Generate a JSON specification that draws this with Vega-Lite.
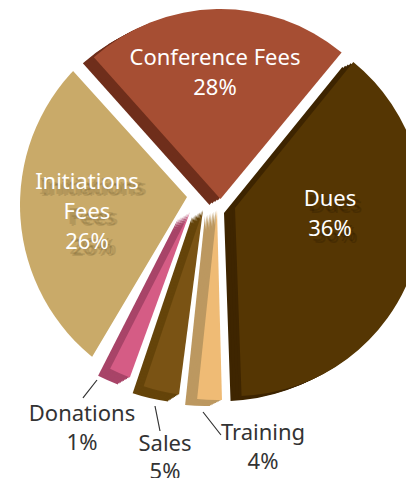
{"$schema":"https://vega.github.io/schema/vega-lite/v6.json","width":406,"height":478,"padding":0,"autosize":{"type":"none"},"background":"white","config":{"view":{"stroke":null}},
"data":{"values":[
{"slice":"Conference Fees","pct":28,"from":-41.8,"to":39.6,"label":"Conference Fees\n28%"},
{"slice":"Dues","pct":36,"from":39,"to":178,"label":"Dues\n36%"},
{"slice":"Training","pct":4,"from":178.5,"to":186,"label":"Training\n4%"},
{"slice":"Sales","pct":5,"from":187.4,"to":198.6,"label":"Sales\n5%"},
{"slice":"Donations","pct":1,"from":200,"to":207,"label":"Donations\n1%"},
{"slice":"Initiations Fees","pct":26,"from":217,"to":315,"label":"Initiations\nFees\n26%"}
]},
"layer":[
{"transform":[{"filter":"datum.slice==='Initiations Fees'"}],"mark":{"type":"arc","radius":196,"xOffset":13,"yOffset":-34,"fill":"#c9aa69"},"encoding":{"theta":{"field":"from","type":"quantitative","scale":{"domain":[0,360],"range":[0,6.283185]}},"theta2":{"field":"to"}}},
{"transform":[{"filter":"datum.slice==='Initiations Fees'"}],"mark":{"type":"arc","theta":-0.735,"theta2":3.677,"radius":210,"radius2":0,"xOffset":-16,"yOffset":-42,"fill":"white"},"encoding":{}},
{"encoding":{"theta":{"field":"from","type":"quantitative","scale":{"domain":[0,360],"range":[0,6.283185]}},"theta2":{"field":"to"}},
"layer":[
{"transform":[{"filter":"datum.slice==='Conference Fees'"}],"layer":[
{"mark":{"type":"arc","radius":190,"xOffset":6.5,"yOffset":-34,"fill":"#6f2e1b"}},
{"mark":{"type":"arc","radius":190,"xOffset":9.25,"yOffset":-35.5,"fill":"#6f2e1b"}},
{"mark":{"type":"arc","radius":190,"xOffset":12,"yOffset":-37,"fill":"#6f2e1b"}},
{"mark":{"type":"arc","radius":190,"xOffset":14.75,"yOffset":-38.5,"fill":"#6f2e1b"}},
{"mark":{"type":"arc","radius":190,"xOffset":17.5,"yOffset":-40,"fill":"#a64e33"}}]},
{"transform":[{"filter":"datum.slice==='Dues'"}],"layer":[
{"mark":{"type":"arc","radius":188,"xOffset":21,"yOffset":-26,"fill":"#3e2500"}},
{"mark":{"type":"arc","radius":188,"xOffset":23.75,"yOffset":-27.25,"fill":"#3e2500"}},
{"mark":{"type":"arc","radius":188,"xOffset":26.5,"yOffset":-28.5,"fill":"#3e2500"}},
{"mark":{"type":"arc","radius":188,"xOffset":29.25,"yOffset":-29.75,"fill":"#3e2500"}},
{"mark":{"type":"arc","radius":188,"xOffset":32,"yOffset":-31,"fill":"#553603"}}]},
{"transform":[{"filter":"datum.slice==='Training'"}],"layer":[
{"mark":{"type":"arc","radius":190,"xOffset":2,"yOffset":-23,"fill":"#bc9860"}},
{"mark":{"type":"arc","radius":190,"xOffset":3.5,"yOffset":-23.75,"fill":"#bc9860"}},
{"mark":{"type":"arc","radius":190,"xOffset":5,"yOffset":-24.5,"fill":"#bc9860"}},
{"mark":{"type":"arc","radius":190,"xOffset":6.5,"yOffset":-25.25,"fill":"#bc9860"}},
{"mark":{"type":"arc","radius":190,"xOffset":8,"yOffset":-26,"fill":"#bc9860"}},
{"mark":{"type":"arc","radius":190,"xOffset":9.5,"yOffset":-26.75,"fill":"#bc9860"}},
{"mark":{"type":"arc","radius":190,"xOffset":11,"yOffset":-27.5,"fill":"#bc9860"}},
{"mark":{"type":"arc","radius":190,"xOffset":12.5,"yOffset":-28.25,"fill":"#bc9860"}},
{"mark":{"type":"arc","radius":190,"xOffset":14,"yOffset":-29,"fill":"#efbb75"}}]},
{"transform":[{"filter":"datum.slice==='Sales'"}],"layer":[
{"mark":{"type":"arc","radius":186,"xOffset":-11,"yOffset":-22,"fill":"#65440a"}},
{"mark":{"type":"arc","radius":186,"xOffset":-9.625,"yOffset":-22.875,"fill":"#65440a"}},
{"mark":{"type":"arc","radius":186,"xOffset":-8.25,"yOffset":-23.75,"fill":"#65440a"}},
{"mark":{"type":"arc","radius":186,"xOffset":-6.875,"yOffset":-24.625,"fill":"#65440a"}},
{"mark":{"type":"arc","radius":186,"xOffset":-5.5,"yOffset":-25.5,"fill":"#65440a"}},
{"mark":{"type":"arc","radius":186,"xOffset":-4.125,"yOffset":-26.375,"fill":"#65440a"}},
{"mark":{"type":"arc","radius":186,"xOffset":-2.75,"yOffset":-27.25,"fill":"#65440a"}},
{"mark":{"type":"arc","radius":186,"xOffset":-1.375,"yOffset":-28.125,"fill":"#65440a"}},
{"mark":{"type":"arc","radius":186,"xOffset":0,"yOffset":-29,"fill":"#7a5314"}}]},
{"transform":[{"filter":"datum.slice==='Donations'"}],"layer":[
{"mark":{"type":"arc","radius":176,"xOffset":-25,"yOffset":-20,"fill":"#a84468"}},
{"mark":{"type":"arc","radius":176,"xOffset":-23.5,"yOffset":-20.875,"fill":"#a84468"}},
{"mark":{"type":"arc","radius":176,"xOffset":-22,"yOffset":-21.75,"fill":"#a84468"}},
{"mark":{"type":"arc","radius":176,"xOffset":-20.5,"yOffset":-22.625,"fill":"#a84468"}},
{"mark":{"type":"arc","radius":176,"xOffset":-19,"yOffset":-23.5,"fill":"#a84468"}},
{"mark":{"type":"arc","radius":176,"xOffset":-17.5,"yOffset":-24.375,"fill":"#a84468"}},
{"mark":{"type":"arc","radius":176,"xOffset":-16,"yOffset":-25.25,"fill":"#a84468"}},
{"mark":{"type":"arc","radius":176,"xOffset":-14.5,"yOffset":-26.125,"fill":"#a84468"}},
{"mark":{"type":"arc","radius":176,"xOffset":-13,"yOffset":-27,"fill":"#d55c85"}}]}
]},
{"transform":[{"filter":"datum.slice==='Donations'"}],"mark":{"type":"arc","theta":3.803,"theta2":3.803,"radius":22.8,"radius2":0,"xOffset":-106,"yOffset":141,"stroke":"#333333","strokeWidth":1.2},"encoding":{}},
{"transform":[{"filter":"datum.slice==='Sales'"}],"mark":{"type":"arc","theta":2.944,"theta2":2.944,"radius":25.5,"radius2":0,"xOffset":-48,"yOffset":167,"stroke":"#333333","strokeWidth":1.2},"encoding":{}},
{"transform":[{"filter":"datum.slice==='Training'"}],"mark":{"type":"arc","theta":2.478,"theta2":2.478,"radius":29.2,"radius2":0,"xOffset":0,"yOffset":173,"stroke":"#333333","strokeWidth":1.2},"encoding":{}},
{"encoding":{"text":{"field":"label"}},
"layer":[
{"transform":[{"filter":"datum.slice==='Initiations Fees'"}],"layer":[
{"mark":{"type":"text","font":"Noto Sans","fontSize":22,"lineBreak":"\n","lineHeight":30,"xOffset":-112,"yOffset":-52,"fill":"#5a4a22","opacity":0.18}},
{"mark":{"type":"text","font":"Noto Sans","fontSize":22,"lineBreak":"\n","lineHeight":30,"xOffset":-110,"yOffset":-50,"fill":"#5a4a22","opacity":0.18}},
{"mark":{"type":"text","font":"Noto Sans","fontSize":22,"lineBreak":"\n","lineHeight":30,"xOffset":-108,"yOffset":-51,"fill":"#5a4a22","opacity":0.18}},
{"mark":{"type":"text","font":"Noto Sans","fontSize":22,"lineBreak":"\n","lineHeight":30,"xOffset":-116,"yOffset":-57,"fill":"white"}}]},
{"transform":[{"filter":"datum.slice==='Dues'"}],"layer":[
{"mark":{"type":"text","font":"Noto Sans","fontSize":22,"lineBreak":"\n","lineHeight":30,"xOffset":131,"yOffset":-35,"fill":"#241500","opacity":0.25}},
{"mark":{"type":"text","font":"Noto Sans","fontSize":22,"lineBreak":"\n","lineHeight":30,"xOffset":133,"yOffset":-33,"fill":"#241500","opacity":0.25}},
{"mark":{"type":"text","font":"Noto Sans","fontSize":22,"lineBreak":"\n","lineHeight":30,"xOffset":127,"yOffset":-40,"fill":"white"}}]},
{"transform":[{"filter":"datum.slice==='Conference Fees'"}],"mark":{"type":"text","font":"Noto Sans","fontSize":22,"lineBreak":"\n","lineHeight":30,"xOffset":12,"yOffset":-181,"fill":"white"}},
{"transform":[{"filter":"datum.slice==='Donations'"}],"mark":{"type":"text","font":"Noto Sans","fontSize":22,"lineBreak":"\n","lineHeight":29,"xOffset":-121,"yOffset":175,"fill":"#333333"}},
{"transform":[{"filter":"datum.slice==='Sales'"}],"mark":{"type":"text","font":"Noto Sans","fontSize":22,"lineBreak":"\n","lineHeight":28,"xOffset":-38,"yOffset":205,"fill":"#333333"}},
{"transform":[{"filter":"datum.slice==='Training'"}],"mark":{"type":"text","font":"Noto Sans","fontSize":22,"lineBreak":"\n","lineHeight":29,"xOffset":60,"yOffset":194,"fill":"#333333"}}
]}
]}
